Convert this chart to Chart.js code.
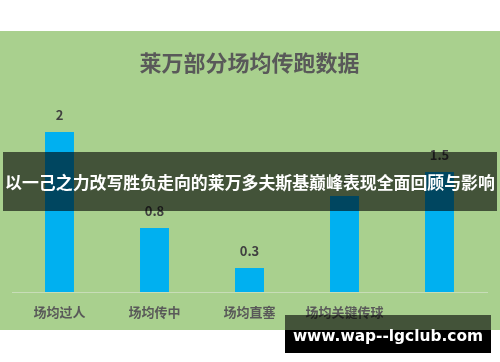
<!DOCTYPE html>
<html><head><meta charset="utf-8">
<script src="https://cdn.jsdelivr.net/npm/chart.js@4.4.0/dist/chart.umd.min.js"></script>
<style>
html,body{margin:0;padding:0;background:#fff;width:500px;height:362px;overflow:hidden;font-family:"Noto Sans CJK SC",sans-serif;}
#wrap{position:absolute;left:0;top:31px;width:500px;height:299px;background:#a9d08e;}
#banner{position:absolute;left:3px;top:152px;width:494px;height:59px;background:rgba(0,0,0,0.6);color:#fff;font-weight:bold;font-size:16.9px;line-height:59px;text-align:center;white-space:nowrap;}
#wm1{position:absolute;left:285px;top:315px;width:206px;height:15px;background:rgba(0,0,0,0.6);}
#wm2{position:absolute;left:285px;top:330px;width:206px;height:23px;background:#000;}
#wmt{position:absolute;left:285px;top:315px;width:206px;height:38px;line-height:42px;color:#fff;font-family:"DejaVu Sans",sans-serif;font-weight:bold;font-size:15.4px;text-align:center;white-space:nowrap;}
</style></head><body>
<div id="wrap"><canvas id="c" width="500" height="299"></canvas></div>
<div id="banner">以一己之力改写胜负走向的莱万多夫斯基巅峰表现全面回顾与影响</div>
<div id="wm1"></div><div id="wm2"></div>
<div id="wmt">www.wap--lgclub.com</div>
<script>
const titleText = "莱万部分场均传跑数据";
const categories = ["场均过人", "场均传中", "场均直塞", "场均关键传球", ""];
const values = [2, 0.8, 0.3, 1.2, 1.5];

const valueLabels = {
  id: 'valueLabels',
  afterDatasetsDraw(chart) {
    const ctx = chart.ctx;
    const meta = chart.getDatasetMeta(0);
    ctx.save();
    ctx.font = 'bold 13px "Noto Sans CJK SC", sans-serif';
    ctx.fillStyle = '#404040';
    ctx.textAlign = 'center';
    ctx.textBaseline = 'middle';
    meta.data.forEach((bar, i) => {
      ctx.fillText(String(values[i]), bar.x, bar.y - 17);
    });
    ctx.restore();
  }
};

new Chart(document.getElementById('c'), {
  type: 'bar',
  data: {
    labels: categories,
    datasets: [{
      data: values,
      backgroundColor: '#00b0f0',
      barPercentage: 0.305,
      categoryPercentage: 1.0
    }]
  },
  options: {
    responsive: false,
    animation: false,
    layout: { padding: { left: 12, right: 13, top: 0, bottom: 0 } },
    plugins: {
      legend: { display: false },
      tooltip: { enabled: false },
      title: {
        display: true,
        text: titleText,
        color: '#595959',
        font: { family: '"Noto Sans CJK SC", sans-serif', size: 22, weight: 'bold' },
        padding: { top: 18, bottom: 16.6 }
      }
    },
    scales: {
      y: { display: false, min: 0, max: 2.5 },
      x: {
        grid: { display: false, drawTicks: false },
        border: { display: true, color: '#c8ddb8', width: 1 },
        ticks: {
          color: '#595959',
          font: { family: '"Noto Sans CJK SC", sans-serif', size: 13, weight: 'bold' },
          padding: 12,
          maxRotation: 0,
          autoSkip: false
        },
        afterFit(scale) { scale.height = 38; }
      }
    }
  },
  plugins: [valueLabels]
});
</script>
</body></html>
